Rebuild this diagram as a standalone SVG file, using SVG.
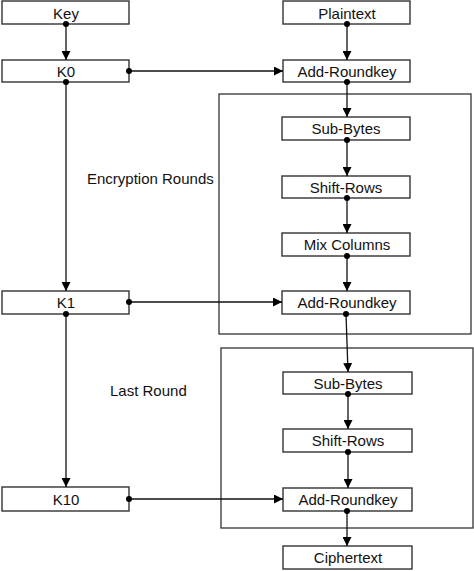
<svg xmlns="http://www.w3.org/2000/svg" width="474" height="571" viewBox="0 0 474 571">
<style>
.box{fill:#fff;stroke:#333;stroke-width:1.4}
.frame{fill:none;stroke:#333;stroke-width:1.3}
.t{font-family:"Liberation Sans",Arial,sans-serif;font-size:15px;fill:#111;text-anchor:middle;dominant-baseline:central}
.lbl{font-family:"Liberation Sans",Arial,sans-serif;font-size:15px;fill:#111;dominant-baseline:central}
.c{fill:none;stroke:#111;stroke-width:1.3}
.dot{fill:#000}
</style>
<defs>
<marker id="ah" viewBox="0 0 10 10" refX="10" refY="5" markerWidth="9" markerHeight="9" markerUnits="userSpaceOnUse" orient="auto">
<path d="M0,0 L10,5 L0,10 Z" fill="#000"/>
</marker>
</defs>
<rect class="frame" x="219" y="94" width="252" height="240"/>
<rect class="frame" x="221" y="348" width="252" height="180"/>
<text class="lbl" x="87" y="178">Encryption Rounds</text>
<text class="lbl" x="110" y="390">Last Round</text>
<g id="key"><rect class="box" x="2" y="1" width="127" height="23"/><text class="t" x="66" y="13">Key</text></g>
<g id="plaintext"><rect class="box" x="283" y="1" width="127" height="23"/><text class="t" x="347" y="13">Plaintext</text></g>
<g id="k0"><rect class="box" x="2" y="60" width="127" height="22"/><text class="t" x="66" y="71">K0</text></g>
<g id="ark1"><rect class="box" x="283" y="60" width="127" height="22"/><text class="t" x="347" y="71">Add-Roundkey</text></g>
<g id="sb1"><rect class="box" x="282" y="117" width="128" height="23"/><text class="t" x="346" y="128.5">Sub-Bytes</text></g>
<g id="sr1"><rect class="box" x="282" y="176" width="128" height="22"/><text class="t" x="346" y="187">Shift-Rows</text></g>
<g id="mc"><rect class="box" x="282" y="233" width="128" height="23"/><text class="t" x="347" y="244.5">Mix Columns</text></g>
<g id="ark2"><rect class="box" x="282" y="291" width="128" height="23"/><text class="t" x="347" y="302.5">Add-Roundkey</text></g>
<g id="k1"><rect class="box" x="2" y="291" width="127" height="23"/><text class="t" x="66" y="302.5">K1</text></g>
<g id="sb2"><rect class="box" x="283" y="372" width="129" height="22"/><text class="t" x="348" y="383">Sub-Bytes</text></g>
<g id="sr2"><rect class="box" x="283" y="429" width="129" height="23"/><text class="t" x="348" y="440.5">Shift-Rows</text></g>
<g id="ark3"><rect class="box" x="283" y="488" width="129" height="23"/><text class="t" x="348" y="499.5">Add-Roundkey</text></g>
<g id="k10"><rect class="box" x="2" y="487" width="127" height="24"/><text class="t" x="66" y="499">K10</text></g>
<g id="ct"><rect class="box" x="283" y="546" width="129" height="23"/><text class="t" x="348" y="557.5">Ciphertext</text></g>
<g id="connectors">
<line class="c" x1="66" y1="24" x2="66" y2="60" marker-end="url(#ah)"/>
<line class="c" x1="66" y1="82" x2="66" y2="291" marker-end="url(#ah)"/>
<line class="c" x1="66" y1="314" x2="66" y2="487" marker-end="url(#ah)"/>
<line class="c" x1="347" y1="24" x2="347" y2="60" marker-end="url(#ah)"/>
<line class="c" x1="347" y1="82" x2="347" y2="117" marker-end="url(#ah)"/>
<line class="c" x1="347" y1="140" x2="347" y2="176" marker-end="url(#ah)"/>
<line class="c" x1="347" y1="198" x2="347" y2="233" marker-end="url(#ah)"/>
<line class="c" x1="347" y1="256" x2="347" y2="291" marker-end="url(#ah)"/>
<line class="c" x1="346" y1="314" x2="348" y2="372" marker-end="url(#ah)"/>
<line class="c" x1="348" y1="394" x2="348" y2="429" marker-end="url(#ah)"/>
<line class="c" x1="348" y1="452" x2="348" y2="488" marker-end="url(#ah)"/>
<line class="c" x1="347" y1="511" x2="347" y2="546" marker-end="url(#ah)"/>
<line class="c" x1="129" y1="71" x2="283" y2="71" marker-end="url(#ah)"/>
<line class="c" x1="129" y1="302" x2="282" y2="302" marker-end="url(#ah)"/>
<line class="c" x1="129" y1="499" x2="283" y2="499" marker-end="url(#ah)"/>
<circle class="dot" cx="66" cy="24" r="3"/>
<circle class="dot" cx="66" cy="82" r="3"/>
<circle class="dot" cx="66" cy="314" r="3"/>
<circle class="dot" cx="129" cy="71" r="3"/>
<circle class="dot" cx="129" cy="302" r="3"/>
<circle class="dot" cx="129" cy="499" r="3"/>
<circle class="dot" cx="347" cy="24" r="3"/>
<circle class="dot" cx="347" cy="82" r="3"/>
<circle class="dot" cx="347" cy="140" r="3"/>
<circle class="dot" cx="347" cy="198" r="3"/>
<circle class="dot" cx="347" cy="256" r="3"/>
<circle class="dot" cx="346" cy="314" r="3"/>
<circle class="dot" cx="348" cy="394" r="3"/>
<circle class="dot" cx="348" cy="452" r="3"/>
<circle class="dot" cx="347" cy="511" r="3"/>
</g>
</svg>
